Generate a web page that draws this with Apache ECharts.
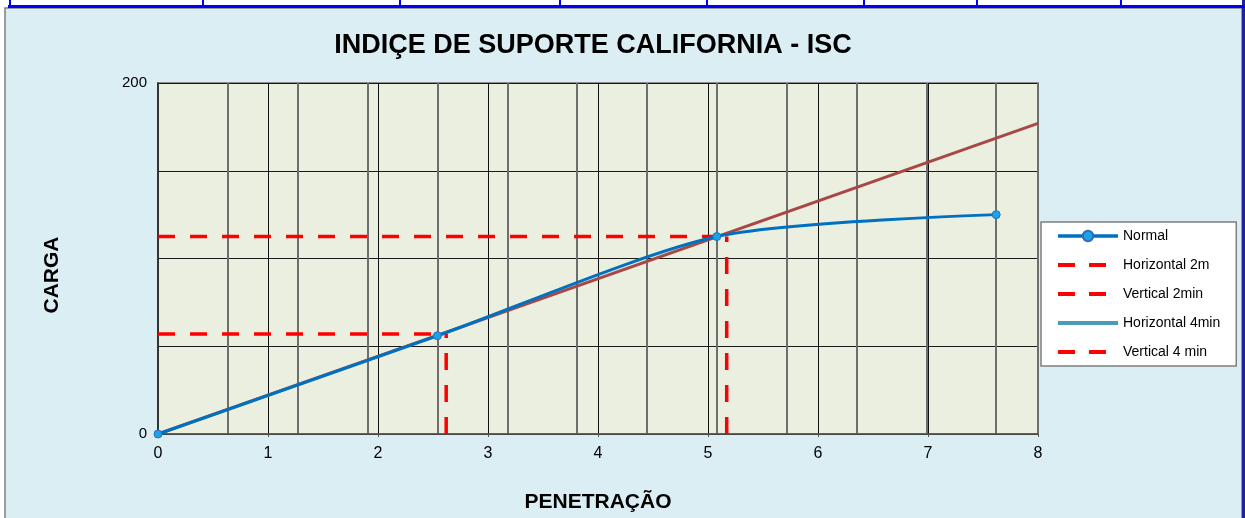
<!DOCTYPE html>
<html>
<head>
<meta charset="utf-8">
<script src="https://cdn.jsdelivr.net/npm/echarts@6/dist/echarts.min.js"></script>
<style>
  html, body { margin: 0; padding: 0; background: #fff; }
  #chart { width: 1245px; height: 518px; }
</style>
</head>
<body>
<div id="chart"></div>
<script>
// penetração (mm) x carga
const normalX = [0, 2.54, 5.08, 7.62];
const normalY = [0, 56, 112.5, 125];

// linha de correção
const correctionX = [0, 8];
const correctionY = [0, 177];

// leituras 2 e 4 min
const read2X = 2.62, read2Y = 57;
const read4X = 5.17, read4Y = 112.5;

const xTicks = [0, 1, 2, 3, 4, 5, 6, 7, 8];
const yLabels = [0, 200];
const legendNames = ['Normal', 'Horizontal 2m', 'Vertical 2min', 'Horizontal 4min', 'Vertical 4 min'];

const chart = echarts.init(document.getElementById('chart'));

const RED = '#FF0000';
const dash = { color: RED, width: 3.5, type: [17, 15] };

const zip = (xs, ys) => xs.map((x, i) => [x, ys[i]]);

const tableCols = [9, 202, 399, 559, 706, 863, 976, 1120];

const legendData = legendNames.map(n => {
    if (n === 'Normal') return { name: n, lineStyle: { width: 3.5 } };
    if (n === 'Horizontal 4min') return { name: n, itemStyle: { opacity: 0 }, lineStyle: { width: 4, type: 'solid' } };
    return { name: n, itemStyle: { opacity: 0 }, lineStyle: { width: 4, type: [17, 14] } };
});

chart.setOption({
    animation: false,
    backgroundColor: 'transparent',
    textStyle: { fontFamily: 'Liberation Sans, Arial, sans-serif' },
    graphic: [
        { type: 'rect', z: -10, shape: { x: 5, y: 8, width: 1237, height: 512 },
          style: { fill: '#DBEEF4', stroke: '#7f7f7f', lineWidth: 1.5 } },
        { type: 'rect', z: -9, shape: { x: 1242, y: 0, width: 3, height: 518 }, style: { fill: '#1F1FA0' } },
        { type: 'rect', z: -9, shape: { x: 8, y: 5, width: 1237, height: 3 }, style: { fill: '#0000FF' } },
        ...tableCols.map(x => ({ type: 'rect', z: -9, shape: { x: x, y: 0, width: 2, height: 7 }, style: { fill: '#0000FF' } })),
        { type: 'text', x: 593, y: 46,
          style: { text: 'INDIÇE DE SUPORTE CALIFORNIA - ISC', font: 'bold 27px Liberation Sans, Arial', fill: '#000', align: 'center', verticalAlign: 'middle' } },
        { type: 'text', x: 52, y: 275, rotation: Math.PI / 2,
          style: { text: 'CARGA', font: 'bold 21px Liberation Sans, Arial', fill: '#000', align: 'center', verticalAlign: 'middle' } }
    ],
    grid: {
        left: 158, right: 207, top: 83, bottom: 78,
        show: true, backgroundColor: '#EBEFDF', borderColor: '#8c8c8c', borderWidth: 2
    },
    legend: {
        data: legendData,
        orient: 'vertical',
        left: 1041, top: 222,
        padding: [7, 16, 7, 15],
        itemWidth: 60, itemHeight: 13, itemGap: 15,
        backgroundColor: '#fff', borderColor: '#7f7f7f', borderWidth: 1.5,
        textStyle: { fontSize: 14, color: '#000' }
    },
    xAxis: [{
        type: 'value', min: 0, max: 8, interval: 1,
        name: 'PENETRAÇÃO', nameLocation: 'middle', nameGap: 58,
        nameTextStyle: { fontSize: 21, fontWeight: 'bold', color: '#000' },
        axisLine: { lineStyle: { color: '#555', width: 1.5 } },
        axisTick: { length: 3, lineStyle: { color: '#555' } },
        axisLabel: { fontSize: 16, color: '#000', margin: 12,
                     formatter: v => xTicks.includes(v) ? String(v) : '' },
        splitLine: { show: true, lineStyle: { color: '#111', width: 1 } }
    }, {
        type: 'value', min: 0, max: 8, interval: 0.635, position: 'bottom',
        axisLine: { show: false }, axisTick: { show: false }, axisLabel: { show: false },
        splitLine: { show: true, lineStyle: { color: '#6e6e6e', width: 2 } }
    }],
    yAxis: {
        type: 'value', min: 0, max: 200, interval: 50,
        axisLine: { show: true, lineStyle: { color: '#222', width: 1.5 } },
        axisTick: { show: false },
        axisLabel: { fontSize: 15, color: '#000', margin: 11,
                     formatter: v => yLabels.includes(v) ? String(v) : '' },
        splitLine: { show: true, lineStyle: { color: '#1a1a1a', width: 1 } }
    },
    series: [
        { name: 'correção', type: 'line', data: zip(correctionX, correctionY), symbol: 'none',
          lineStyle: { color: '#A84846', width: 3 }, z: 3 },
        { name: 'Horizontal 2m', type: 'line', symbol: 'none', color: RED, lineStyle: dash, z: 4,
          data: [[0, read2Y], [read2X, read2Y]] },
        { name: 'Vertical 2min', type: 'line', symbol: 'none', color: RED, lineStyle: dash, z: 4,
          data: [[read2X, 0], [read2X, read2Y]] },
        { name: 'Horizontal 4min', type: 'line', symbol: 'none', color: '#4A9BB8',
          lineStyle: { color: '#4A9BB8', width: 4 }, data: [] },
        { name: 'Vertical 4 min', type: 'line', symbol: 'none', color: RED, lineStyle: dash, z: 4,
          data: [[read4X, 0], [read4X, read4Y]] },
        { name: 'Horizontal 4', type: 'line', symbol: 'none', color: RED, lineStyle: dash, z: 4,
          data: [[0, read4Y], [read4X, read4Y]] },
        { name: 'Normal', type: 'line', smooth: 0.25, data: zip(normalX, normalY),
          symbol: 'circle', symbolSize: 8, color: '#0070C0',
          itemStyle: { color: '#1AA3E8', borderColor: '#2F6DB5', borderWidth: 1 },
          lineStyle: { color: '#0070C0', width: 3 }, z: 5 }
    ]
});
</script>
</body>
</html>
